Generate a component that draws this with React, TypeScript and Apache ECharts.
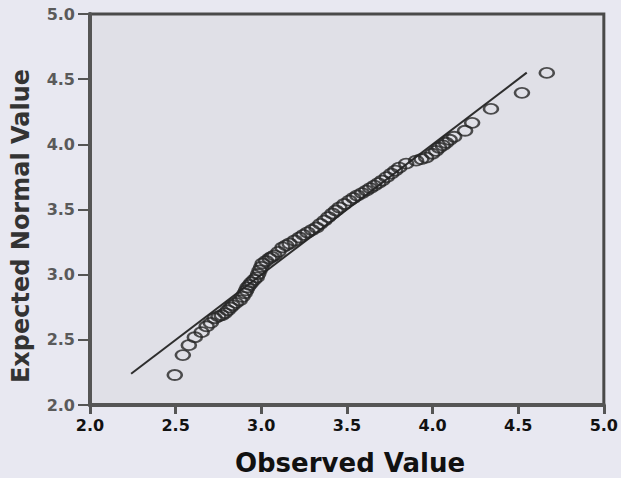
import React, { useEffect, useRef } from "react";
import * as echarts from "echarts";

const observed: number[] = [
  2.495, 2.542, 2.577, 2.612, 2.652, 2.681, 2.705, 2.728, 2.75, 2.769,
  2.788, 2.804, 2.82, 2.833, 2.852, 2.874, 2.89, 2.903, 2.912, 2.92,
  2.932, 2.943, 2.958, 2.973, 2.982, 2.99, 3.0, 3.008, 3.028, 3.048,
  3.062, 3.077, 3.1, 3.124, 3.145, 3.165, 3.195, 3.223, 3.246, 3.27,
  3.296, 3.322, 3.345, 3.369, 3.392, 3.415, 3.436, 3.456, 3.485, 3.514,
  3.538, 3.561, 3.588, 3.613, 3.636, 3.66, 3.683, 3.706, 3.732, 3.759,
  3.782, 3.805, 3.846, 3.904, 3.935, 3.963, 3.998, 4.02, 4.038, 4.06,
  4.079, 4.1, 4.126, 4.19, 4.231, 4.341, 4.522, 4.667,
];
const expected: number[] = [
  2.23, 2.383, 2.459, 2.52, 2.559, 2.604, 2.63, 2.666, 2.68, 2.689,
  2.705, 2.727, 2.748, 2.765, 2.784, 2.803, 2.83, 2.857, 2.88, 2.903,
  2.922, 2.941, 2.96, 2.979, 3.005, 3.033, 3.06, 3.086, 3.105, 3.125,
  3.137, 3.148, 3.175, 3.209, 3.225, 3.239, 3.262, 3.285, 3.305, 3.324,
  3.343, 3.362, 3.39, 3.415, 3.442, 3.469, 3.492, 3.515, 3.542, 3.568,
  3.588, 3.607, 3.626, 3.645, 3.664, 3.683, 3.702, 3.722, 3.748, 3.775,
  3.798, 3.821, 3.852, 3.875, 3.887, 3.898, 3.928, 3.95, 3.974, 3.992,
  4.012, 4.035, 4.058, 4.104, 4.165, 4.272, 4.395, 4.548,
];
const refLineStart = 2.24;
const refLineEnd = 4.55;
const xTitle = "Observed Value";
const yTitle = "Expected Normal Value";

export default function App() {
  const ref = useRef<HTMLDivElement>(null);
  useEffect(() => {
    if (!ref.current) return;
    const chart = echarts.init(ref.current, undefined, { renderer: "svg" });
    const points = observed.map((x, i) => [x, expected[i]]);
    chart.setOption({
      animation: false,
      backgroundColor: "#e8e8f1",
      grid: {
        left: 90,
        right: 16,
        top: 14,
        bottom: 73,
        show: true,
        backgroundColor: "#e0e0e7",
        borderColor: "#4a4a4a",
        borderWidth: 3,
      },
      xAxis: {
        type: "value",
        min: 2,
        max: 5,
        interval: 0.5,
        splitLine: { show: false },
        axisLine: { show: true, onZero: false, lineStyle: { color: "#555", width: 4 } },
        axisTick: { show: true, length: 9, lineStyle: { color: "#555", width: 3 } },
        axisLabel: {
          margin: 12,
          color: "#111",
          fontFamily: "DejaVu Sans",
          fontWeight: "bold",
          fontSize: 16,
          formatter: (v: number) => v.toFixed(1),
        },
      },
      yAxis: {
        type: "value",
        min: 2,
        max: 5,
        interval: 0.5,
        splitLine: { show: false },
        axisLine: { show: true, onZero: false, lineStyle: { color: "#555", width: 4 } },
        axisTick: { show: true, length: 12, lineStyle: { color: "#555", width: 2 } },
        axisLabel: {
          margin: 15,
          color: "#5a5a5a",
          fontFamily: "DejaVu Sans",
          fontWeight: "bold",
          fontSize: 16,
          formatter: (v: number) => v.toFixed(1),
        },
      },
      graphic: [
        {
          type: "text",
          x: 21,
          y: 226,
          rotation: Math.PI / 2,
          style: {
            text: yTitle,
            align: "center",
            verticalAlign: "middle",
            fill: "#333",
            font: "bold 24px 'DejaVu Sans'",
          },
        },
        {
          type: "text",
          x: 350,
          y: 463,
          style: {
            text: xTitle,
            align: "center",
            verticalAlign: "middle",
            fill: "#111",
            font: "bold 26px 'DejaVu Sans'",
          },
        },
      ],
      series: [
        {
          type: "line",
          data: [
            [refLineStart, refLineStart],
            [refLineEnd, refLineEnd],
          ],
          showSymbol: false,
          lineStyle: { color: "#2e2e2e", width: 2 },
          z: 2,
        },
        {
          type: "scatter",
          data: points,
          symbol: "path://M0,10a10,10 0 1,0 20,0a10,10 0 1,0 -20,0",
          symbolSize: [14, 10],
          itemStyle: {
            color: "rgba(0,0,0,0)",
            borderColor: "#262626",
            borderWidth: 2.2,
          },
          z: 3,
        },
      ],
    });
    return () => chart.dispose();
  }, []);
  return (
    <div
      ref={ref}
      style={{ position: "fixed", left: 0, top: 0, width: 621, height: 478 }}
    />
  );
}
